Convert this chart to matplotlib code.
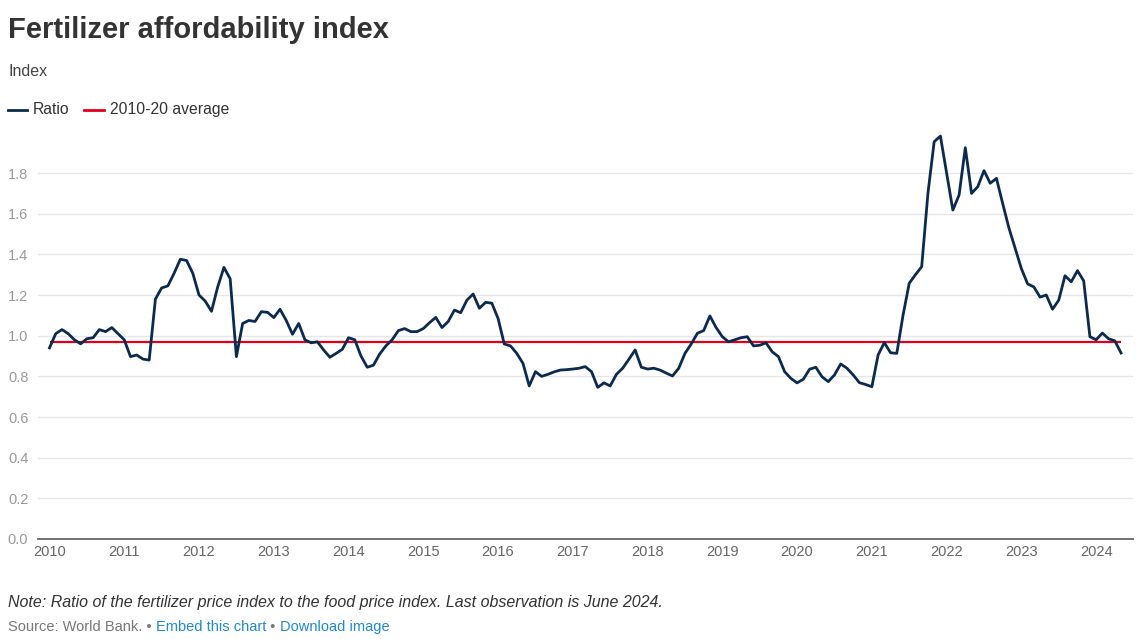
import matplotlib
matplotlib.use("Agg")
import matplotlib.pyplot as plt
import pandas as pd

# ---- data ----
months = pd.period_range("2010-01", periods=173, freq="M").strftime("%Y-%m").tolist()
ratio = [
    0.94, 1.01, 1.03, 1.01, 0.98, 0.96, 0.985, 0.99, 1.03, 1.02, 1.04, 1.01,          # 2010
    0.98, 0.897, 0.905, 0.885, 0.88, 1.18, 1.235, 1.245, 1.307, 1.376, 1.37, 1.307,    # 2011
    1.20, 1.17, 1.12, 1.24, 1.336, 1.28, 0.897, 1.06, 1.075, 1.07, 1.118, 1.115,       # 2012
    1.089, 1.13, 1.075, 1.007, 1.06, 0.98, 0.965, 0.97, 0.93, 0.894, 0.913, 0.933,     # 2013
    0.99, 0.98, 0.90, 0.845, 0.855, 0.91, 0.95, 0.98, 1.025, 1.035, 1.02, 1.02,        # 2014
    1.035, 1.064, 1.09, 1.04, 1.07, 1.126, 1.113, 1.175, 1.205, 1.135, 1.164, 1.16,    # 2015
    1.085, 0.959, 0.95, 0.913, 0.864, 0.753, 0.823, 0.80, 0.81, 0.822, 0.831, 0.833,   # 2016
    0.836, 0.84, 0.848, 0.823, 0.746, 0.768, 0.753, 0.81, 0.84, 0.884, 0.93, 0.845,    # 2017
    0.836, 0.84, 0.831, 0.816, 0.802, 0.84, 0.913, 0.959, 1.012, 1.025, 1.097, 1.04,   # 2018
    0.995, 0.97, 0.98, 0.99, 0.995, 0.95, 0.953, 0.965, 0.921, 0.897, 0.823, 0.79,     # 2019
    0.768, 0.786, 0.835, 0.845, 0.798, 0.774, 0.807, 0.861, 0.84, 0.807, 0.769, 0.76,  # 2020
    0.749, 0.905, 0.966, 0.916, 0.913, 1.10, 1.258, 1.30, 1.34, 1.70, 1.954, 1.982,    # 2021
    1.80, 1.618, 1.692, 1.925, 1.70, 1.733, 1.812, 1.75, 1.774, 1.65, 1.53, 1.43,      # 2022
    1.33, 1.255, 1.24, 1.19, 1.20, 1.13, 1.175, 1.295, 1.265, 1.32, 1.27, 0.995,       # 2023
    0.98, 1.013, 0.985, 0.975, 0.915,                                                  # 2024
]
average_2010_20 = 0.97
year_labels = [str(y) for y in range(2010, 2025)]
y_ticks = [0.0, 0.2, 0.4, 0.6, 0.8, 1.0, 1.2, 1.4, 1.6, 1.8]

W, H = 1137, 639
fig = plt.figure(figsize=(W / 100, H / 100), dpi=100)
plt.rcParams["font.family"] = ["Liberation Sans", "DejaVu Sans"]

def fx(px):
    return px / W

def fy(py):
    return 1 - py / H

left, right, top, bottom = 38, 1133, 132.4, 539
ax = fig.add_axes([fx(left), fy(bottom), (right - left) / W, (bottom - top) / H])

x = list(range(len(ratio)))
ax.plot(x, [average_2010_20] * len(x), color="#e3001b", lw=1.6, zorder=3,
        solid_capstyle="butt")
ax.plot(x, ratio, color="#0b2a4f", lw=2.0, zorder=4, solid_joinstyle="round")

ax.set_ylim(0, 2.0)
ax.set_xlim((left - 49.5) / 6.23, (right - 49.5) / 6.23)
ax.set_yticks(y_ticks)
ax.set_yticklabels([f"{v:.1f}" for v in y_ticks])
ax.set_xticks([12 * i for i in range(len(year_labels))])
ax.set_xticklabels(year_labels)

ax.grid(axis="y", color="#e6e6e6", lw=1.0, zorder=0)
ax.grid(axis="x", visible=False)
for s in ["top", "right", "left"]:
    ax.spines[s].set_visible(False)
ax.spines["bottom"].set_color("#666666")
ax.spines["bottom"].set_linewidth(1.3)
ax.spines["bottom"].set_zorder(5)
ax.tick_params(axis="y", length=0, pad=7, labelsize=10.5, labelcolor="#9a9a9a")
ax.tick_params(axis="x", length=0, pad=4, labelsize=10.5, labelcolor="#666666")

# titles
fig.text(fx(8), fy(38), "Fertilizer affordability index", fontsize=21,
         fontweight="bold", color="#333333", va="baseline", ha="left")
fig.text(fx(8), fy(76), "Index", fontsize=11.5, color="#444444", va="baseline", ha="left")

# legend
ly = 109.5
fig.add_artist(plt.Line2D([fx(8), fx(27)], [fy(ly), fy(ly)], color="#0b2a4f", lw=2.0))
fig.text(fx(33), fy(ly), "Ratio", fontsize=11.3, color="#333333", va="center", ha="left")
fig.add_artist(plt.Line2D([fx(84), fx(104)], [fy(ly), fy(ly)], color="#e3001b", lw=2.0))
fig.text(fx(110), fy(ly), "2010-20 average", fontsize=11.3, color="#333333",
         va="center", ha="left")

# footer
fig.text(fx(8), fy(603), "Note: Ratio of the fertilizer price index to the food price index. "
         "Last observation is June 2024.", fontsize=11.5, style="italic", color="#333333",
         va="center", ha="left")
fs = 10.5
t1 = fig.text(fx(8), fy(627), "Source: World Bank. \u2022 ", fontsize=fs, color="#777777",
              va="center", ha="left")
fig.canvas.draw()
r = fig.canvas.get_renderer()
bb = t1.get_window_extent(r)
t2 = fig.text(bb.x1 / W, fy(627), "Embed this chart", fontsize=fs, color="#1a8ad4",
              va="center", ha="left")
bb = t2.get_window_extent(r)
t3 = fig.text(bb.x1 / W, fy(627), " \u2022 ", fontsize=fs, color="#777777",
              va="center", ha="left")
bb = t3.get_window_extent(r)
fig.text(bb.x1 / W, fy(627), "Download image", fontsize=fs, color="#1a8ad4",
         va="center", ha="left")

fig.savefig("out.png", dpi=100, facecolor="white")
